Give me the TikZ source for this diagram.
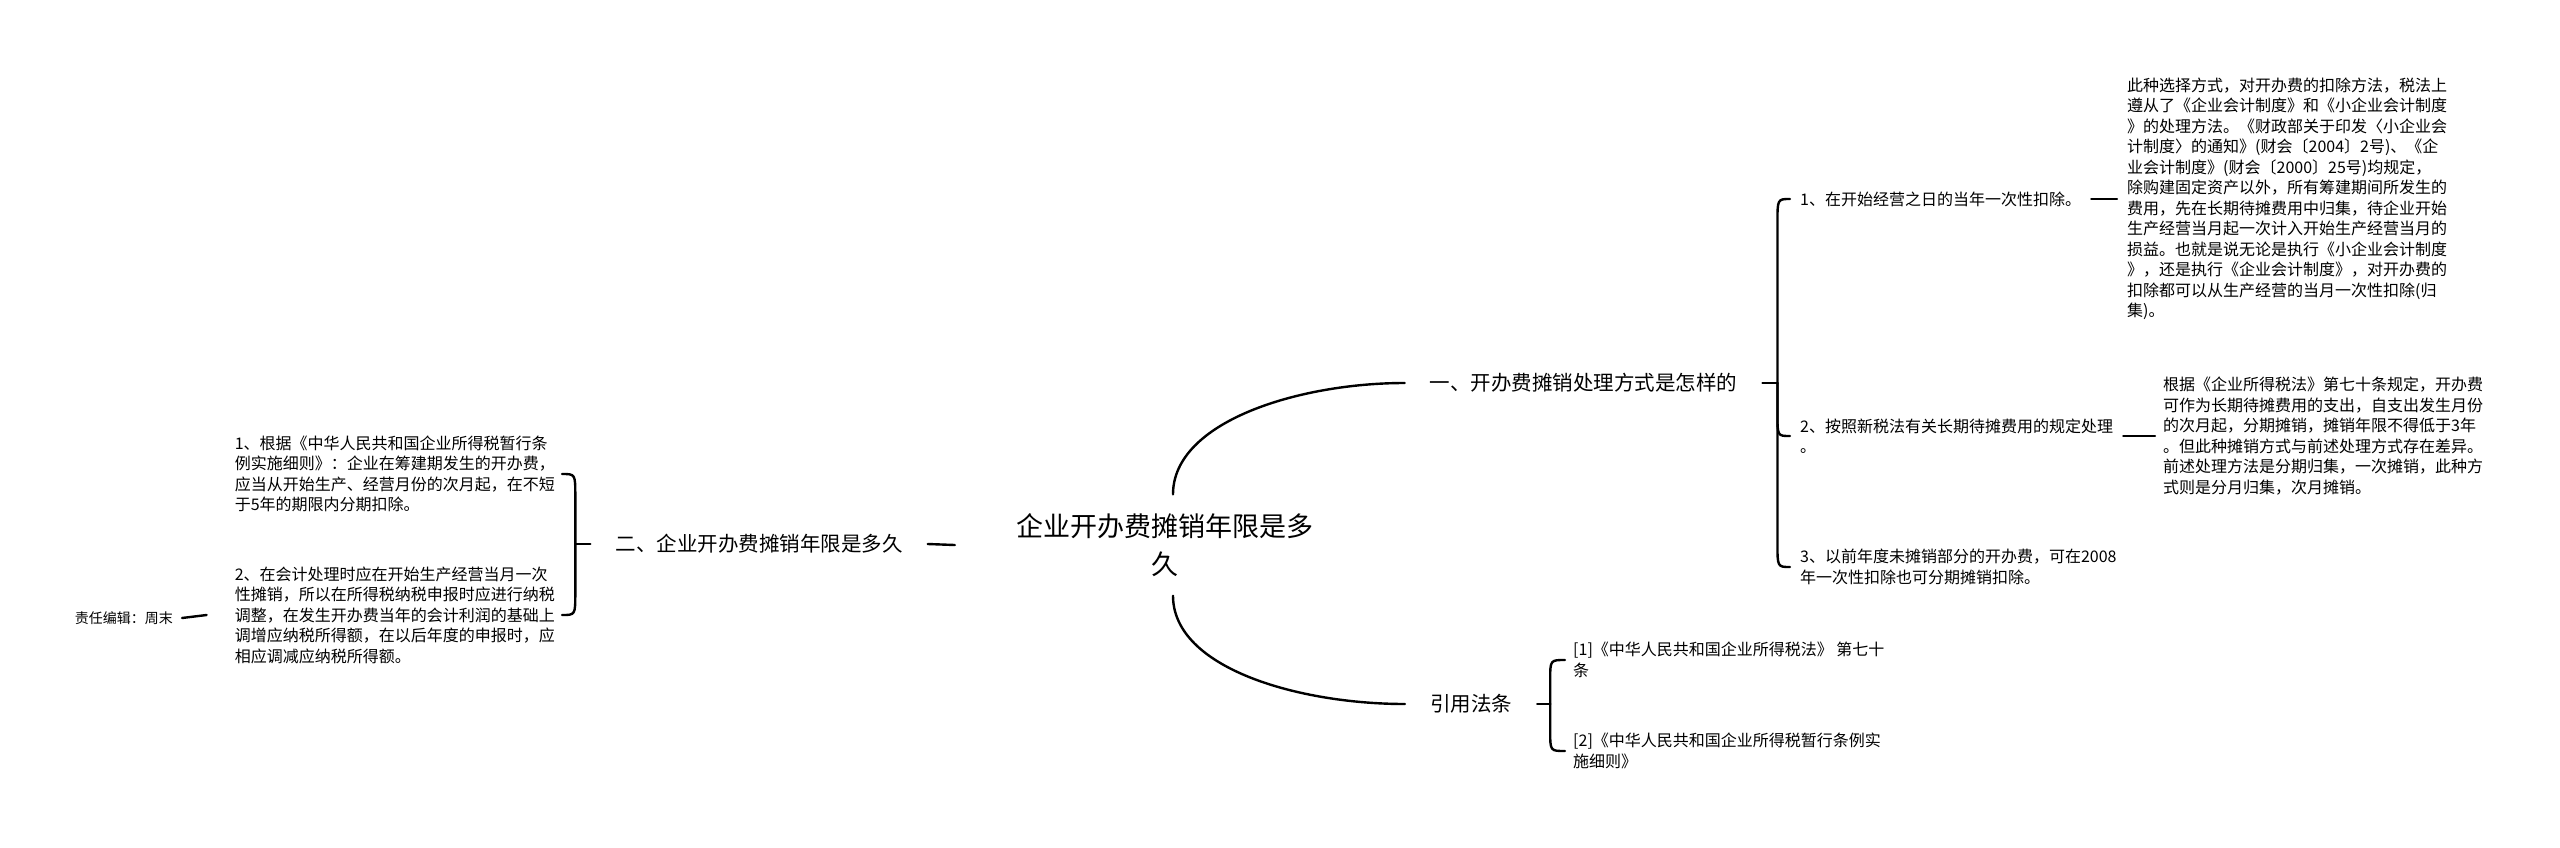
\documentclass[tikz,border=0pt]{standalone}
\usepackage{fontspec}
\setmainfont{Noto Sans CJK SC}
\usetikzlibrary{calc}
\tikzset{
  conn/.style={line width=2.4pt, black, line cap=round},
  rootn/.style={font=\fontsize{27}{38}\selectfont, align=center, minimum width=420pt, minimum height=101pt, inner sep=0pt},
  maint/.style={font=\fontsize{20.5}{25}\selectfont, inner xsep=25pt, inner ysep=4pt},
  sub/.style={font=\fontsize{16}{20.5}\selectfont, align=left, inner xsep=10pt, inner ysep=2pt},
  leftsub/.style={sub, inner xsep=7pt, anchor=east},
  refn/.style={sub, inner xsep=8pt, anchor=west},
}
\begin{document}
\begin{tikzpicture}[x=1pt,y=-1pt]
\fill[white] (0,0) rectangle (2560,847);
\useasboundingbox (0,0) rectangle (2560,847);

% nodes
\node[rootn] (root) at (1165,545) {企业开办费摊销年限是多\\久};
\node[maint] (n1) at (1583.5,383) {一、开办费摊销处理方式是怎样的};
\node[maint] (n2) at (759,544) {二、企业开办费摊销年限是多久};
\node[maint] (n3) at (1471,704) {引用法条};

\node[sub, anchor=west] (c1) at (1790,199) {1、在开始经营之日的当年一次性扣除。};
\node[sub, anchor=west] (c2) at (1790,436) {2、按照新税法有关长期待摊费用的规定处理\\。};
\node[sub, anchor=west] (c3) at (1790,567) {3、以前年度未摊销部分的开办费，可在2008\\年一次性扣除也可分期摊销扣除。};

\node[sub, anchor=west] (b1) at (2117,199) {此种选择方式，对开办费的扣除方法，税法上\\遵从了《企业会计制度》和《小企业会计制度\\》的处理方法。《财政部关于印发〈小企业会\\计制度〉的通知》(财会〔2004〕2号)、《企\\业会计制度》(财会〔2000〕25号)均规定，\\除购建固定资产以外，所有筹建期间所发生的\\费用，先在长期待摊费用中归集，待企业开始\\生产经营当月起一次计入开始生产经营当月的\\损益。也就是说无论是执行《小企业会计制度\\》，还是执行《企业会计制度》，对开办费的\\扣除都可以从生产经营的当月一次性扣除(归\\集)。};
\node[sub, anchor=west, inner xsep=8pt] (b2) at (2155,436) {根据《企业所得税法》第七十条规定，开办费\\可作为长期待摊费用的支出，自支出发生月份\\的次月起，分期摊销，摊销年限不得低于3年\\。但此种摊销方式与前述处理方式存在差异。\\前述处理方法是分期归集，一次摊销，此种方\\式则是分月归集，次月摊销。};

\node[leftsub] (l1) at (562,474) {1、根据《中华人民共和国企业所得税暂行条\\例实施细则》：企业在筹建期发生的开办费，\\应当从开始生产、经营月份的次月起，在不短\\于5年的期限内分期扣除。};
\node[leftsub] (l2) at (562,615) {2、在会计处理时应在开始生产经营当月一次\\性摊销，所以在所得税纳税申报时应进行纳税\\调整，在发生开办费当年的会计利润的基础上\\调增应纳税所得额，在以后年度的申报时，应\\相应调减应纳税所得额。};
\node[font=\fontsize{14}{17}\selectfont, anchor=east, inner xsep=9pt] (ed) at (182,618) {责任编辑：周末};

\node[refn] (r1) at (1565,660) {[1]《中华人民共和国企业所得税法》 第七十\\条};
\node[refn] (r2) at (1565,751) {[2]《中华人民共和国企业所得税暂行条例实\\施细则》};

% junction points
\coordinate (j1) at ($(n1.east)+(15,0)$);
\coordinate (jL) at ($(n2.west)+(-15,0)$);
\coordinate (jR) at ($(n3.east)+(13,0)$);

% root connectors
\draw[conn] ($(root.north)+(8,0)$) .. controls ($(root.north)+(8,-73)$) and ($(n1.west)+(-105,0)$) .. (n1.west);
\draw[conn] ($(root.south)+(8,0)$) .. controls ($(root.south)+(8,73)$) and ($(n3.west)+(-105,0)$) .. (n3.west);
\draw[conn] (root.west) -- (n2.east);

% right brace (n1)
\draw[conn] (n1.east) -- (j1);
\draw[conn] (j1) -- ($(j1 |- c1.west)+(0,24)$) .. controls (j1 |- c1.west) .. (c1.west);
\draw[conn] (j1) -- ($(j1 |- c2.west)+(0,-22)$) .. controls (j1 |- c2.west) .. (c2.west);
\draw[conn] (j1) -- ($(j1 |- c3.west)+(0,-24)$) .. controls (j1 |- c3.west) .. (c3.west);
\draw[conn] (c1.east) -- (b1.west);
\draw[conn] (c2.east) -- (b2.west);

% left brace (n2)
\draw[conn] (n2.west) -- (jL);
\draw[conn] (jL) -- ($(jL |- l1.east)+(0,22)$) .. controls (jL |- l1.east) .. (l1.east);
\draw[conn] (jL) -- ($(jL |- l2.east)+(0,-22)$) .. controls (jL |- l2.east) .. (l2.east);
\draw[conn] ([xshift=-21pt]l2.west) -- (ed.east);

% refs brace (n3)
\draw[conn] (n3.east) -- (jR);
\draw[conn] (jR) -- ($(jR |- r1.west)+(0,20)$) .. controls (jR |- r1.west) .. (r1.west);
\draw[conn] (jR) -- ($(jR |- r2.west)+(0,-20)$) .. controls (jR |- r2.west) .. (r2.west);
\end{tikzpicture}
\end{document}
